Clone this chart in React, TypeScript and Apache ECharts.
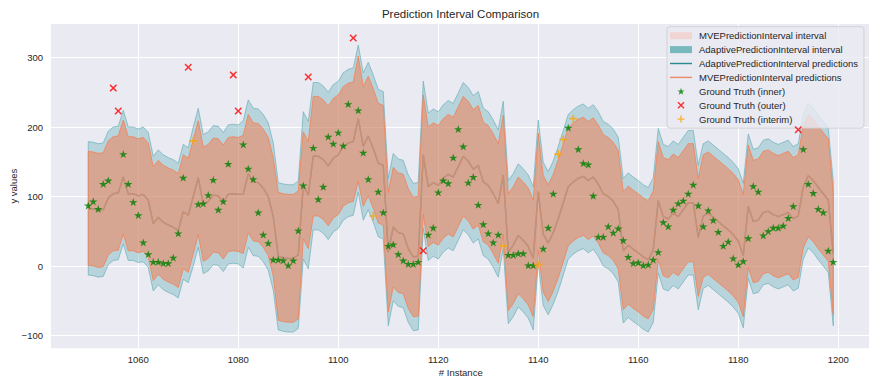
import React, { useEffect, useRef } from "react";
import * as echarts from "echarts";

// Instance numbering of the evaluated window
const firstInstance = 1050;

// Point predictions (both models share the same centre line)
const prediction = [
  83, 82, 80, 81, 98, 104, 105, 128, 104, 104,
  101, 103, 95, 61, 70, 63, 59, 56, 51, 78,
  73, 100, 127, 89, 93, 102, 101, 92, 103, 104,
  103, 103, 133, 121, 120, 112, 100, 71, 14, 12,
  11, 11, 16, 116, 102, 158, 158, 153, 144, 155,
  160, 172, 177, 179, 212, 172, 187, 169, 148, 145,
  20, 56, 48, 46, 25, 13, 14, 160, 114, 120,
  116, 126, 132, 128, 143, 158, 151, 139, 145, 121,
  116, 104, 90, 131, 20, 30, 44, 37, 28, 11,
  107, 46, 33, 48, 68, 91, 114, 121, 126, 129,
  123, 128, 118, 104, 100, 93, 81, 22, 30, 24,
  19, 13, 9, 23, 94, 71, 68, 76, 71, 81,
  91, 91, 41, 72, 76, 70, 64, 58, 52, 45,
  36, 15, 86, 64, 66, 77, 79, 74, 71, 74,
  77, 68, 72, 114, 130, 123, 113, 104, 95, 18,
];

// Half widths of the MVE interval
const mveHalfWidth = [
  82, 82, 82, 82, 82, 82, 82, 82, 82, 82,
  82, 82, 82, 82, 82, 82, 82, 82, 82, 82,
  82, 82, 82, 82, 82, 82, 82, 82, 82, 82,
  82, 85, 85, 85, 85, 85, 85, 85, 92, 92,
  92, 92, 92, 77, 77, 86, 86, 86, 86, 86,
  86, 86, 86, 86, 90, 86, 86, 86, 86, 86,
  86, 86, 86, 86, 86, 86, 86, 86, 86, 86,
  86, 86, 86, 86, 86, 86, 86, 86, 86, 86,
  86, 86, 86, 86, 84, 84, 84, 84, 84, 84,
  84, 84, 84, 84, 85, 85, 85, 85, 85, 85,
  85, 85, 85, 85, 85, 85, 85, 85, 85, 85,
  85, 85, 85, 85, 85, 85, 85, 85, 85, 85,
  85, 85, 85, 88, 88, 88, 88, 88, 88, 88,
  88, 88, 88, 88, 88, 88, 88, 88, 88, 88,
  88, 88, 88, 88, 88, 88, 88, 88, 88, 88,
];

// Half widths of the adaptive interval
const adaptiveHalfWidth = [
  96, 96, 96, 96, 96, 96, 96, 96, 96, 96,
  96, 97, 97, 97, 97, 97, 97, 97, 97, 97,
  97, 100, 100, 100, 100, 100, 100, 100, 100, 100,
  100, 106, 106, 106, 106, 106, 106, 106, 106, 106,
  106, 106, 106, 106, 106, 106, 106, 106, 106, 106,
  106, 106, 106, 106, 106, 106, 106, 106, 106, 106,
  106, 106, 106, 106, 106, 106, 106, 106, 106, 106,
  106, 106, 106, 106, 106, 106, 106, 106, 106, 106,
  106, 106, 106, 106, 103, 103, 103, 103, 103, 103,
  103, 103, 103, 103, 104, 104, 104, 104, 104, 104,
  104, 104, 104, 104, 104, 104, 104, 104, 104, 104,
  104, 104, 104, 104, 104, 104, 104, 104, 104, 104,
  104, 104, 104, 104, 104, 104, 104, 104, 104, 104,
  104, 104, 104, 104, 104, 104, 104, 104, 104, 104,
  104, 104, 104, 104, 104, 104, 104, 104, 104, 104,
];

// Observed values
const groundTruth = [
  87, 93, 82, 118, 123, 256, 223, 161, 118, 92,
  73, 34, 17, 6, 6, 4, 4, 12, 47, 127,
  286, 180, 89, 90, 102, 124, 81, 93, 147, 275,
  223, 175, 140, 125, 77, 45, 33, 9, 9, 8,
  1, 8, 51, 116, 272, 170, 96, 114, 186, 176,
  192, 173, 233, 328, 224, 163, 125, 72, 107, 77,
  29, 31, 17, 8, 3, 3, 6, 22, 45, 55,
  106, 123, 119, 156, 197, 172, 120, 128, 88, 60,
  47, 34, 45, 29, 16, 16, 18, 18, 1, 1,
  2, 25, 55, 104, 161, 182, 199, 212, 168, 148,
  146, 101, 42, 42, 57, 48, 54, 37, 13, 4,
  5, 1, 2, 9, 20, 63, 57, 81, 90, 94,
  104, 117, 87, 57, 80, 66, 49, 29, 35, 11,
  2, 7, 40, 115, 107, 44, 50, 55, 55, 58,
  69, 86, 196, 168, 118, 105, 82, 77, 22, 6,
];

// Instances whose observation falls outside both intervals
const outerInstances = [1055, 1056, 1070, 1079, 1080, 1094, 1103, 1117, 1192];
// Instances covered only by the adaptive interval
const interimInstances = [1071, 1107, 1133, 1140, 1144, 1145, 1147];

const FONT = "'Liberation Sans', Arial, Helvetica, sans-serif";
const TEXT = "#262626";

const STAR =
  "path://M50 0 L61.17 34.63 L97.55 34.55 L68.07 55.87 L79.39 90.45 L50 69 L20.61 90.45 L31.93 55.87 L2.45 34.55 L38.83 34.63 Z";
const CROSS =
  "path://M0 14 L14 0 L50 36 L86 0 L100 14 L64 50 L100 86 L86 100 L50 64 L14 100 L0 86 L36 50 Z";
const PLUS = "path://M40 0 H60 V40 H100 V60 H60 V100 H40 V60 H0 V40 H40 Z";
const LINE_ICON = "path://M0 0 H100 V6.5 H0 Z";

const NAMES = {
  mveBand: "MVEPredictionInterval interval",
  adaBand: "AdaptivePredictionInterval interval",
  adaPred: "AdaptivePredictionInterval predictions",
  mvePred: "MVEPredictionInterval predictions",
  inner: "Ground Truth (inner)",
  outer: "Ground Truth (outer)",
  interim: "Ground Truth (interim)",
};

const instances = prediction.map((_, k) => firstInstance + k);

// Filled interval drawn as one polygon through the cartesian scales
function bandSeries(
  name: string,
  halfWidth: number[],
  fill: string,
  edge: string,
  z: number
) {
  return {
    type: "custom",
    name,
    silent: true,
    clip: true,
    z,
    itemStyle: { color: fill },
    data: [[instances[0], prediction[0]]],
    renderItem: (_params: any, api: any) => {
      const upper = instances.map((x, k) =>
        api.coord([x, prediction[k] + halfWidth[k]])
      );
      const lower = instances.map((x, k) =>
        api.coord([x, prediction[k] - halfWidth[k]])
      );
      return {
        type: "polygon",
        shape: { points: upper.concat(lower.slice().reverse()) },
        style: { fill, stroke: edge, lineWidth: 1 },
      };
    },
  };
}

function buildOption() {
  const pred = instances.map((x, k) => [x, prediction[k]]);

  const inner: number[][] = [];
  const outer: number[][] = [];
  const interim: number[][] = [];
  instances.forEach((x, k) => {
    const pt = [x, groundTruth[k]];
    if (outerInstances.includes(x)) outer.push(pt);
    else if (interimInstances.includes(x)) interim.push(pt);
    else inner.push(pt);
  });

  return {
    animation: false,
    textStyle: { fontFamily: FONT },
    grid: {
      left: 51,
      top: 24,
      width: 819.5,
      height: 324.3,
      show: true,
      backgroundColor: "#EAEAF2",
      borderWidth: 0,
      containLabel: false,
      outerBoundsMode: "none",
    },
    graphic: [
      {
        type: "text",
        x: 460.5,
        y: 14,
        style: {
          text: "Prediction Interval Comparison",
          fontSize: 11.5,
          fontFamily: FONT,
          fill: TEXT,
          align: "center",
          verticalAlign: "middle",
        },
      },
    ],
    xAxis: {
      type: "value",
      min: 1042.55,
      max: 1206.45,
      splitNumber: 8,
      name: "# Instance",
      nameLocation: "middle",
      nameGap: 19,
      nameMoveOverlap: false,
      nameTextStyle: { fontSize: 9.5, color: TEXT, fontFamily: FONT },
      axisLine: { show: false },
      axisTick: { show: false },
      axisLabel: {
        fontSize: 9.5,
        color: TEXT,
        fontFamily: FONT,
        margin: 6,
        showMinLabel: false,
        showMaxLabel: false,
        formatter: (v: number) => String(v),
      },
      splitLine: {
        show: true,
        showMinLine: false,
        showMaxLine: false,
        lineStyle: { color: "#ffffff", width: 1 },
      },
    },
    yAxis: {
      type: "value",
      min: -118.4,
      max: 348.2,
      splitNumber: 5,
      name: "y values",
      nameLocation: "middle",
      nameGap: 33,
      nameMoveOverlap: false,
      nameTextStyle: { fontSize: 9.5, color: TEXT, fontFamily: FONT },
      axisLine: { show: false },
      axisTick: { show: false },
      axisLabel: {
        fontSize: 9.5,
        color: TEXT,
        fontFamily: FONT,
        margin: 8,
        showMinLabel: false,
        showMaxLabel: false,
        formatter: (v: number) => (v < 0 ? "\u2212" + String(-v) : String(v)),
      },
      splitLine: {
        show: true,
        showMinLine: false,
        showMaxLine: false,
        lineStyle: { color: "#ffffff", width: 1 },
      },
    },
    legend: {
      orient: "vertical",
      left: 667,
      top: 26.7,
      padding: [3.5, 6, 3.5, 3],
      itemWidth: 22,
      itemHeight: 7,
      itemGap: 2.9,
      selectedMode: false,
      backgroundColor: "rgba(234,234,242,0.8)",
      borderColor: "rgba(204,204,204,0.8)",
      borderWidth: 1,
      borderRadius: 3,
      textStyle: {
        fontSize: 9.5,
        color: TEXT,
        fontFamily: FONT,
        lineHeight: 11,
        padding: [0, 0, 0, 2],
      },
      data: [
        { name: NAMES.mveBand, icon: "rect", itemStyle: { color: "#f1d5d3", borderWidth: 0 } },
        { name: NAMES.adaBand, icon: "rect", itemStyle: { color: "#78b9bd", borderWidth: 0 } },
        { name: NAMES.adaPred, icon: LINE_ICON, itemStyle: { color: "#2a8a8f" } },
        { name: NAMES.mvePred, icon: LINE_ICON, itemStyle: { color: "#f08a66" } },
        { name: NAMES.inner },
        { name: NAMES.outer },
        { name: NAMES.interim },
      ],
    },
    series: [
      bandSeries(
        NAMES.adaBand,
        adaptiveHalfWidth,
        "rgba(94,170,178,0.37)",
        "rgba(94,170,178,0.6)",
        1
      ),
      bandSeries(
        NAMES.mveBand,
        mveHalfWidth,
        "rgba(245,125,80,0.52)",
        "rgba(245,125,80,0.75)",
        2
      ),
      {
        type: "line",
        name: NAMES.adaPred,
        symbol: "none",
        z: 3,
        data: pred,
        lineStyle: { color: "rgba(42,138,143,0.55)", width: 1.4 },
        itemStyle: { color: "#2a8a8f" },
      },
      {
        type: "line",
        name: NAMES.mvePred,
        symbol: "none",
        z: 3,
        data: pred,
        lineStyle: { color: "rgba(240,138,102,0.7)", width: 1.4 },
        itemStyle: { color: "#f08a66" },
      },
      {
        type: "scatter",
        name: NAMES.inner,
        data: inner,
        symbol: STAR,
        symbolSize: [8.5, 8],
        itemStyle: { color: "#008000" },
        z: 5,
      },
      {
        type: "scatter",
        name: NAMES.outer,
        data: outer,
        symbol: CROSS,
        symbolSize: 7.5,
        itemStyle: { color: "#ff0000" },
        z: 5,
      },
      {
        type: "scatter",
        name: NAMES.interim,
        data: interim,
        symbol: PLUS,
        symbolSize: 8,
        itemStyle: { color: "#ffa500" },
        z: 5,
      },
    ],
  };
}

export default function App() {
  const ref = useRef<HTMLDivElement>(null);
  useEffect(() => {
    document.body.style.margin = "0";
    if (!ref.current) return;
    const chart = echarts.init(ref.current, undefined, { renderer: "svg" });
    chart.setOption(buildOption() as any);
    return () => chart.dispose();
  }, []);
  return <div ref={ref} style={{ width: 869, height: 380 }} />;
}
